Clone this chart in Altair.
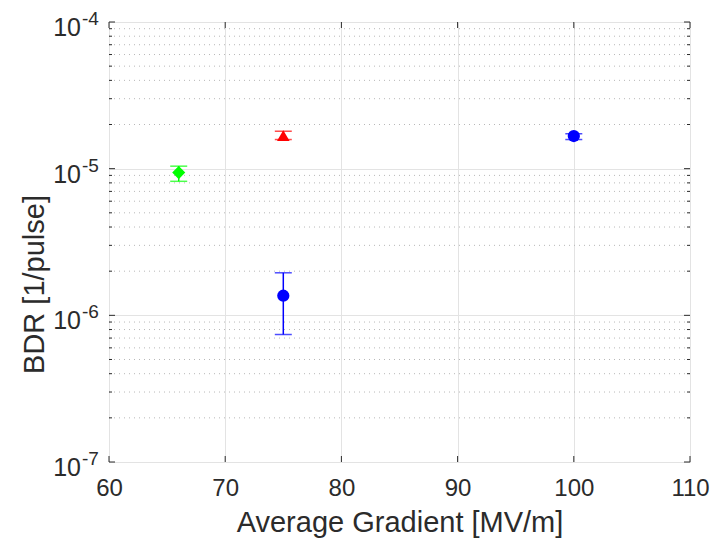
import altair as alt
import pandas as pd

# ---- data ----
series = ["green", "red", "blue", "blue"]
shapes = ["diamond", "triangle-up", "circle", "circle"]
gradient = [66, 75, 75, 100]            # MV/m
bdr = [9.4e-6, 1.68e-5, 1.36e-6, 1.67e-5]
bdr_lo = [8.2e-6, 1.58e-5, 7.4e-7, 1.58e-5]
bdr_hi = [1.04e-5, 1.80e-5, 1.95e-6, 1.73e-5]

x_ticks = [60, 70, 80, 90, 100, 110]
y_decades = [1e-7, 1e-6, 1e-5, 1e-4]
y_exponents = ["-7", "-6", "-5", "-4"]
minor_mult = [2, 3, 4, 5, 6, 7, 8, 9]

W, H = 581, 440
TXT = "#2b2b2b"
FONT = "Liberation Sans"

df = pd.DataFrame({"series": series, "shape": shapes, "x": gradient,
                   "y": bdr, "lo": bdr_lo, "hi": bdr_hi})
minor = pd.DataFrame({"y": [m * d for d in y_decades[:-1] for m in minor_mult]})
major_y = pd.DataFrame({"y": y_decades, "exp": y_exponents})
major_x = pd.DataFrame({"x": x_ticks})

xs = alt.Scale(domain=[60, 110], nice=False, zero=False)
ys = alt.Scale(type="log", domain=[1e-7, 1e-4], nice=False)
col = alt.Scale(domain=["green", "red", "blue"], range=["#00ff00", "#ff0000", "#0000ff"])
sz = alt.Scale(domain=["diamond", "triangle-up", "circle"], range=[170, 150, 120])

X = alt.X("x:Q", scale=xs,
          axis=alt.Axis(values=x_ticks, title="Average Gradient [MV/m]",
                        ticks=False, domain=False, grid=True, gridColor="#e3e3e3",
                        labelFont=FONT, labelFontSize=24, labelColor=TXT, labelPadding=14,
                        labelFlush=False, labelOverlap=False,
                        titleFont=FONT, titleFontSize=29, titleFontWeight="normal",
                        titleColor=TXT, titleY=60, titleBaseline="middle"))
Y = alt.Y("y:Q", scale=ys,
          axis=alt.Axis(values=y_decades, title="BDR [1/pulse]", labels=False,
                        ticks=False, domain=False, grid=True, gridColor="#e3e3e3",
                        titleFont=FONT, titleFontSize=29, titleFontWeight="normal",
                        titleColor=TXT, titleX=-75, titleY=262, titleBaseline="middle"))

base = alt.Chart(df)

minor_grid = alt.Chart(minor).mark_rule(color="#b8b8b8", strokeWidth=1, strokeDash=[1, 4]).encode(
    y=alt.Y("y:Q", scale=ys), x=alt.value(0), x2=alt.value(W))

# inward ticks (left/right) for y, minor and major
yt_l_min = alt.Chart(minor).mark_rule(color=TXT, strokeWidth=1).encode(
    y=alt.Y("y:Q", scale=ys), x=alt.value(0), x2=alt.value(3))
yt_r_min = alt.Chart(minor).mark_rule(color=TXT, strokeWidth=1).encode(
    y=alt.Y("y:Q", scale=ys), x=alt.value(W - 3), x2=alt.value(W))
yt_l = alt.Chart(major_y).mark_rule(color=TXT, strokeWidth=1).encode(
    y=alt.Y("y:Q", scale=ys), x=alt.value(0), x2=alt.value(6))
yt_r = alt.Chart(major_y).mark_rule(color=TXT, strokeWidth=1).encode(
    y=alt.Y("y:Q", scale=ys), x=alt.value(W - 6), x2=alt.value(W))
xt_b = alt.Chart(major_x).mark_rule(color=TXT, strokeWidth=1).encode(
    x=alt.X("x:Q", scale=xs), y=alt.value(H - 6), y2=alt.value(H))
xt_t = alt.Chart(major_x).mark_rule(color=TXT, strokeWidth=1).encode(
    x=alt.X("x:Q", scale=xs), y=alt.value(0), y2=alt.value(6))

# y tick labels 10^k
lab10 = alt.Chart(major_y).mark_text(text="10", align="right", baseline="middle",
                                     font=FONT, fontSize=25, color=TXT, dy=6).encode(
    y=alt.Y("y:Q", scale=ys), x=alt.value(-28))
labexp = alt.Chart(major_y).mark_text(align="left", baseline="middle",
                                      font=FONT, fontSize=19, color=TXT, dy=-3).encode(
    y=alt.Y("y:Q", scale=ys), x=alt.value(-27), text="exp:N")

err = base.mark_rule(strokeWidth=1.5).encode(
    x=alt.X("x:Q", scale=xs), y=alt.Y("lo:Q", scale=ys), y2="hi:Q",
    color=alt.Color("series:N", scale=col, legend=None))
cap_lo = base.mark_tick(orient="horizontal", size=17, thickness=1.5).encode(
    x=alt.X("x:Q", scale=xs), y=alt.Y("lo:Q", scale=ys),
    color=alt.Color("series:N", scale=col, legend=None))
cap_hi = base.mark_tick(orient="horizontal", size=17, thickness=1.5).encode(
    x=alt.X("x:Q", scale=xs), y=alt.Y("hi:Q", scale=ys),
    color=alt.Color("series:N", scale=col, legend=None))
pts = base.mark_point(filled=True, opacity=1).encode(
    x=X, y=Y,
    color=alt.Color("series:N", scale=col, legend=None),
    shape=alt.Shape("shape:N", scale=None),
    size=alt.Size("shape:N", scale=sz, legend=None))

chart = alt.layer(
    minor_grid, err, cap_lo, cap_hi, pts,
    yt_l_min, yt_r_min, yt_l, yt_r, xt_b, xt_t, lab10, labexp
).properties(
    width=W, height=H,
    autosize=alt.AutoSizeParams(type="none"),
    padding={"left": 101, "top": 14, "right": 20, "bottom": 80},
).configure_view(stroke=TXT, strokeWidth=1.5).configure(background="white")

chart.save("out.html", embed_options={"renderer": "svg", "actions": False})
